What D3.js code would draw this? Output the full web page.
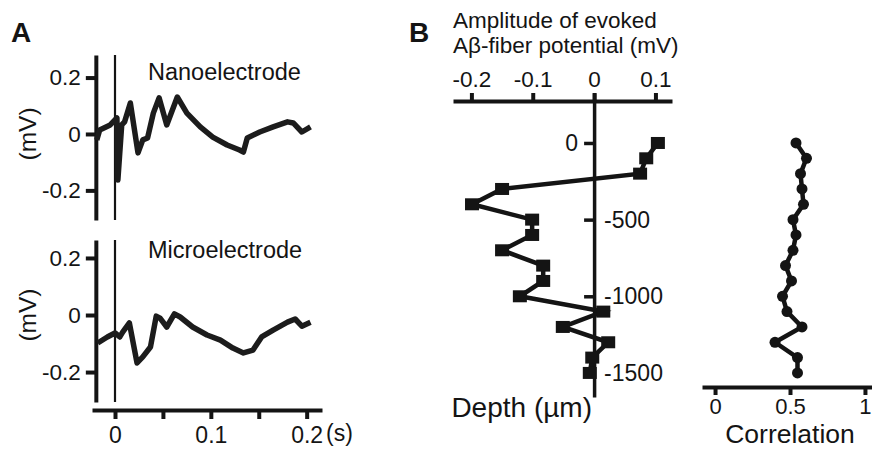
<!DOCTYPE html>
<html>
<head>
<meta charset="utf-8">
<script src="https://cdn.jsdelivr.net/npm/d3@7"></script>
<style>
  body { margin: 0; background: #fff; }
  svg { display: block; font-family: "Liberation Sans", Arial, sans-serif; }
  .axis path, .axis line { stroke: #141414; }
  .axis text { fill: #141414; }
</style>
</head>
<body>
<svg id="fig" width="872" height="449"></svg>
<script>

// ---- panel A traces (time in s, potential in mV) ----
var nanoT = [-0.019, -0.016, -0.005, 0, 0.002, 0.003, 0.007, 0.010, 0.016, 0.024, 0.029, 0.034, 0.040, 0.046, 0.054, 0.065, 0.075, 0.089, 0.102, 0.117, 0.130, 0.134, 0.138, 0.151, 0.165, 0.180, 0.186, 0.195, 0.204];
var nanoV = [-0.021, 0.014, 0.032, 0.050, 0.057, -0.163, 0.032, 0.043, 0.110, -0.067, -0.021, -0.014, 0.074, 0.128, 0.032, 0.131, 0.074, 0.025, -0.011, -0.039, -0.057, -0.064, -0.014, 0.007, 0.025, 0.043, 0.039, 0.007, 0.025];

var microT = [-0.018, -0.008, 0, 0.005, 0.008, 0.015, 0.023, 0.029, 0.037, 0.043, 0.047, 0.054, 0.062, 0.068, 0.081, 0.096, 0.110, 0.123, 0.134, 0.144, 0.153, 0.165, 0.180, 0.188, 0.195, 0.204];
var microV = [-0.098, -0.077, -0.063, -0.077, -0.060, -0.028, -0.168, -0.147, -0.112, -0.004, -0.011, -0.042, 0.004, -0.007, -0.042, -0.070, -0.088, -0.116, -0.133, -0.123, -0.077, -0.053, -0.025, -0.014, -0.039, -0.025];

var mvTicks = [-0.2, 0, 0.2];
var timeTicks = [0, 0.05, 0.1, 0.15, 0.2];
var timeLabels = [0, 0.1, 0.2];

// ---- panel B profiles ----
var depths = [0, -100, -200, -300, -400, -500, -600, -700, -800, -900, -1000, -1100, -1200, -1300, -1400, -1500];
var amplitudes = [0.104, 0.085, 0.075, -0.150, -0.199, -0.101, -0.101, -0.150, -0.083, -0.083, -0.121, 0.015, -0.051, 0.023, -0.003, -0.007];
var correlations = [0.54, 0.61, 0.57, 0.58, 0.59, 0.52, 0.54, 0.52, 0.47, 0.51, 0.45, 0.48, 0.58, 0.40, 0.55, 0.55];

var ampTicks = [-0.2, -0.1, 0, 0.1];
var depthTicks = [0, -500, -1000, -1500];
var corrTicks = [0, 0.5, 1];

var ink = "#141414";
var svg = d3.select("#fig");

function fmt(d) { return d === 0 ? "0" : String(d); }

function styleAxis(g, w, fs) {
  g.attr("class", "axis");
  g.select(".domain").attr("stroke-width", w);
  g.selectAll(".tick line").attr("stroke-width", w);
  g.selectAll(".tick text").attr("font-size", fs);
}

// ================= panel A =================
var xA = d3.scaleLinear().domain([-0.024, 0.216]).range([92, 322]);

function trace(y0, y1, domain, tvals, vvals, name, nameY) {
  var y = d3.scaleLinear().domain(domain).range([y1, y0]);

  var ax = svg.append("g")
    .attr("transform", "translate(" + xA(-0.02) + ",0)")
    .call(d3.axisLeft(y).tickValues(mvTicks).tickFormat(fmt).tickSize(10).tickSizeOuter(0).tickPadding(5));
  styleAxis(ax, 4, 22.5);

  // stimulus onset
  svg.append("line")
    .attr("x1", xA(0)).attr("x2", xA(0))
    .attr("y1", y0).attr("y2", y1)
    .attr("stroke", ink).attr("stroke-width", 2.2);

  var pts = tvals.map(function (t, i) { return [t, vvals[i]]; });
  svg.append("path")
    .datum(pts)
    .attr("fill", "none")
    .attr("stroke", "#1c1c1c")
    .attr("stroke-width", 5.5)
    .attr("stroke-linejoin", "round")
    .attr("d", d3.line().x(function (d) { return xA(d[0]); }).y(function (d) { return y(d[1]); }));

  svg.append("text")
    .attr("x", 148).attr("y", nameY)
    .attr("font-size", 23.5).attr("fill", ink)
    .text(name);

  svg.append("text")
    .attr("transform", "translate(36," + y(0) + ") rotate(-90)")
    .attr("text-anchor", "middle")
    .attr("font-size", 24.5).attr("fill", ink)
    .text("(mV)");
}

trace(55, 220, [-0.305, 0.28], nanoT, nanoV, "Nanoelectrode", 80);
trace(240, 402, [-0.305, 0.263], microT, microV, "Microelectrode", 258);

var xAxisA = svg.append("g")
  .attr("transform", "translate(0,410)")
  .call(d3.axisBottom(xA).tickValues(timeTicks).tickSize(9).tickSizeOuter(0).tickPadding(8)
    .tickFormat(function (d) { return timeLabels.indexOf(d) >= 0 ? fmt(d) : ""; }));
styleAxis(xAxisA, 4, 23);

svg.append("text")
  .attr("x", 326).attr("y", 441)
  .attr("font-size", 23).attr("fill", ink)
  .text("(s)");

svg.append("text")
  .attr("x", 11).attr("y", 42)
  .attr("font-size", 28).attr("font-weight", "bold").attr("fill", ink)
  .text("A");

// ================= panel B =================
var amp = d3.scaleLinear().domain([-0.23, 0.127]).range([453, 672]);
var dep = d3.scaleLinear().domain([326, -1657]).range([93, 397]);
var corr = d3.scaleLinear().domain([-0.087, 1.047]).range([702, 872]);

var topAxis = svg.append("g")
  .attr("transform", "translate(0,101)")
  .call(d3.axisTop(amp).tickValues(ampTicks).tickFormat(fmt).tickSize(8).tickSizeOuter(0).tickPadding(6));
styleAxis(topAxis, 4, 22.5);

var depthAxis = svg.append("g")
  .attr("transform", "translate(" + amp(0) + ",0)")
  .call(d3.axisLeft(dep).tickValues(depthTicks).tickFormat(fmt).tickSize(10).tickSizeOuter(0).tickPadding(6));
styleAxis(depthAxis, 3.5, 23);
depthAxis.selectAll(".tick text")
  .filter(function (d) { return d !== 0; })
  .attr("x", 10)
  .attr("text-anchor", "start");

var profile = depths.map(function (d, i) { return [amplitudes[i], d]; });

svg.append("path")
  .datum(profile)
  .attr("fill", "none")
  .attr("stroke", ink)
  .attr("stroke-width", 4.5)
  .attr("d", d3.line().x(function (d) { return amp(d[0]); }).y(function (d) { return dep(d[1]); }));

svg.append("g")
  .selectAll("rect")
  .data(profile)
  .enter().append("rect")
  .attr("x", function (d) { return amp(d[0]) - 7; })
  .attr("y", function (d) { return dep(d[1]) - 6; })
  .attr("width", 14)
  .attr("height", 12)
  .attr("fill", ink);

svg.append("text")
  .attr("x", 453).attr("y", 28)
  .attr("font-size", 22.5).attr("fill", ink)
  .text("Amplitude of evoked");
svg.append("text")
  .attr("x", 453).attr("y", 53)
  .attr("font-size", 22.5).attr("fill", ink)
  .text("Aβ-fiber potential (mV)");

svg.append("text")
  .attr("x", 592).attr("y", 417)
  .attr("text-anchor", "end")
  .attr("font-size", 28).attr("fill", ink)
  .text("Depth (µm)");

svg.append("text")
  .attr("x", 409).attr("y", 42)
  .attr("font-size", 28).attr("font-weight", "bold").attr("fill", ink)
  .text("B");

// correlation column
var corrPts = depths.map(function (d, i) { return [correlations[i], d]; });

svg.append("path")
  .datum(corrPts)
  .attr("fill", "none")
  .attr("stroke", ink)
  .attr("stroke-width", 4.5)
  .attr("d", d3.line().x(function (d) { return corr(d[0]); }).y(function (d) { return dep(d[1]); }));

svg.append("g")
  .selectAll("circle")
  .data(corrPts)
  .enter().append("circle")
  .attr("cx", function (d) { return corr(d[0]); })
  .attr("cy", function (d) { return dep(d[1]); })
  .attr("r", 5.5)
  .attr("fill", ink);

var corrAxis = svg.append("g")
  .attr("transform", "translate(0,387)")
  .call(d3.axisBottom(corr).tickValues(corrTicks).tickFormat(fmt).tickSize(8).tickSizeOuter(0).tickPadding(3));
styleAxis(corrAxis, 4, 22);

svg.append("text")
  .attr("x", 790).attr("y", 443)
  .attr("text-anchor", "middle")
  .attr("font-size", 26.5).attr("fill", ink)
  .text("Correlation");

</script>
</body>
</html>
